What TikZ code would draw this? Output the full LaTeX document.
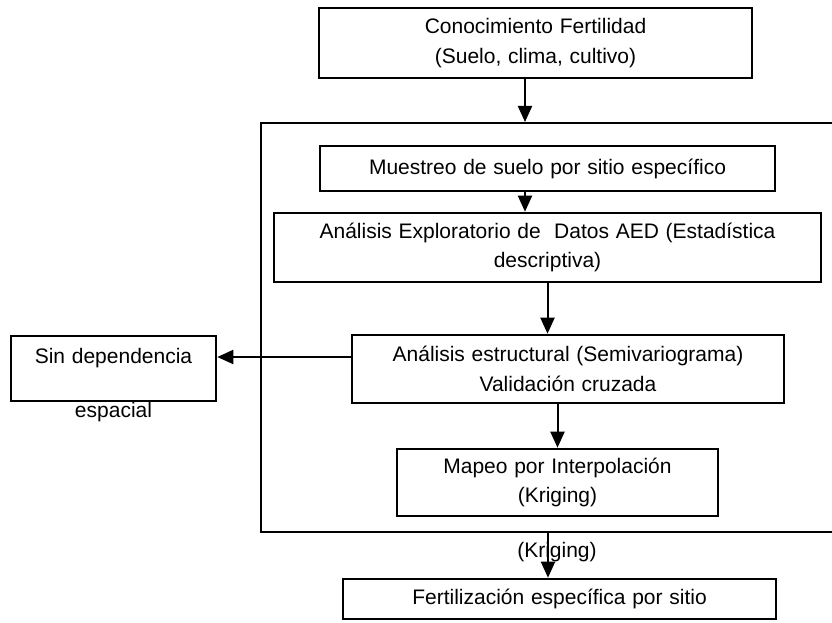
\documentclass[tikz,border=0pt]{standalone}
\usepackage{fontspec}
\setmainfont{Liberation Sans}
\usetikzlibrary{arrows.meta,positioning}
\newcommand\flujofont{\fontsize{21}{29.5}\selectfont\spaceskip=0.32em\relax}

\begin{document}
\begin{tikzpicture}[x=1pt, y=-1pt, line width=2pt,
  font=\flujofont,
  box/.style={draw, line width=2.6pt, align=center, inner sep=0pt},
  arr/.style={-{Triangle[length=16pt,width=14pt]}}]
\useasboundingbox (0,0) rectangle (832,623);
\clip (0,0) rectangle (832,623);

\node[draw, minimum width=579pt, minimum height=409pt] (marco) at (550.5,327.5) {};

\node[box, minimum width=433pt, minimum height=70pt] (conoc) at (535.5,43) {Conocimiento Fertilidad\\(Suelo, clima, cultivo)};
\node[box, minimum width=455pt, minimum height=45pt] (muestreo) at (547.5,168.5) {Muestreo de suelo por sitio específico};
\node[box, minimum width=547pt, minimum height=69pt] (aed) at (547.5,247.5) {Análisis Exploratorio de \ Datos AED (Estadística\\descriptiva)};
\node[box, minimum width=432pt, minimum height=68pt] (semi) at (568,369) {Análisis estructural (Semivariograma)\\Validación cruzada};
\node[box, minimum width=321pt, minimum height=67pt] (mapeo) at (557.5,482.5) {Mapeo por Interpolación\\(Kriging)};
\node[box, minimum width=433pt, minimum height=40pt] (fert) at (559.5,599) {Fertilización específica por sitio};
\node[box, minimum width=205pt, minimum height=65pt] (sin) at (113.5,368.5) {};
\node (sintxt) at (113.5,358) {Sin dependencia};
\node (espacial) at (113.5,412) {espacial};
\node (krig) at (557,552) {(Kriging)};

\draw[arr]  ([xshift=-10.5pt]conoc.south) -- ([xshift=-10.5pt]conoc.south |- marco.north);
\draw[arr]  ([xshift=-22.5pt]muestreo.south) -- ([xshift=-22.5pt]muestreo.south |- aed.north);
\draw[arr]  (aed.south) -- (aed.south |- semi.north);
\draw[arr]  (mapeo.north |- semi.south) -- (mapeo.north);
\draw[arr]  ([yshift=12pt]semi.west) -- ([yshift=12pt]semi.west -| sin.east);
\draw[arr]  ([xshift=-2.5pt]marco.south) -- ([xshift=-2.5pt]marco.south |- fert.north);
\end{tikzpicture}
\end{document}
